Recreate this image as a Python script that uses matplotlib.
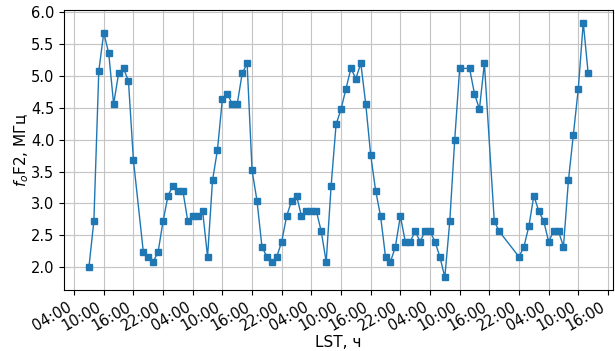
import datetime as dt

import matplotlib
matplotlib.use("Agg")
import matplotlib.pyplot as plt
import matplotlib.dates as mdates

# Hourly foF2 soundings: hours counted from midnight of the first day (LST)
start = dt.datetime(2021, 3, 1)

hours_day1 = [7, 8, 9, 10, 11, 12, 13, 14, 15, 16, 18, 19, 20, 21, 22, 23]
fof2_day1 = [2.00, 2.72, 5.08, 5.68, 5.36, 4.56, 5.04, 5.12, 4.92, 3.68,
             2.24, 2.16, 2.08, 2.24, 2.72, 3.12]

hours_day2 = list(range(24, 48))
fof2_day2 = [3.28, 3.20, 3.20, 2.72, 2.80, 2.80, 2.88, 2.16, 3.36, 3.84,
             4.64, 4.72, 4.56, 4.56, 5.04, 5.20, 3.52, 3.04, 2.32, 2.16,
             2.08, 2.16, 2.40, 2.80]

hours_day3 = list(range(48, 72))
fof2_day3 = [3.04, 3.12, 2.80, 2.88, 2.88, 2.88, 2.56, 2.08, 3.28, 4.24,
             4.48, 4.80, 5.12, 4.96, 5.20, 4.56, 3.76, 3.20, 2.80, 2.16,
             2.08, 2.32, 2.80, 2.40]

hours_day4 = [72, 73, 74, 75, 76, 77, 78, 79, 80, 81, 82, 84, 85, 86, 87,
              89, 90, 94, 95]
fof2_day4 = [2.40, 2.56, 2.40, 2.56, 2.56, 2.40, 2.16, 1.84, 2.72, 4.00,
             5.12, 5.12, 4.72, 4.48, 5.20, 2.72, 2.56, 2.16, 2.32]

hours_day5 = list(range(96, 109))
fof2_day5 = [2.64, 3.12, 2.88, 2.72, 2.40, 2.56, 2.56, 2.32, 3.36, 4.08,
             4.80, 5.84, 5.04]

hours = hours_day1 + hours_day2 + hours_day3 + hours_day4 + hours_day5
fof2 = fof2_day1 + fof2_day2 + fof2_day3 + fof2_day4 + fof2_day5
times = [start + dt.timedelta(hours=h) for h in hours]

tick_hours = [4, 10, 16, 22]

fig = plt.figure(figsize=(6.15, 3.51), dpi=100)
ax = fig.add_axes([0.104, 0.174, 0.893, 0.798])

ax.plot(times, fof2, color="#1f77b4", marker="s", markersize=3.8,
        linewidth=1.0)

ax.xaxis.set_major_locator(mdates.HourLocator(byhour=tick_hours))
ax.xaxis.set_major_formatter(mdates.DateFormatter("%H:%M"))
for lbl in ax.get_xticklabels():
    lbl.set_rotation(30)
    lbl.set_horizontalalignment("right")

ax.tick_params(labelsize=10.5)
ax.grid(True, color="#c4c4c4")
ax.set_xlabel("LST, ч", fontsize=11, labelpad=1)
ax.set_ylabel("$f_o$F2, МГц", fontsize=11, labelpad=0)

fig.savefig("out.png", dpi=100)
